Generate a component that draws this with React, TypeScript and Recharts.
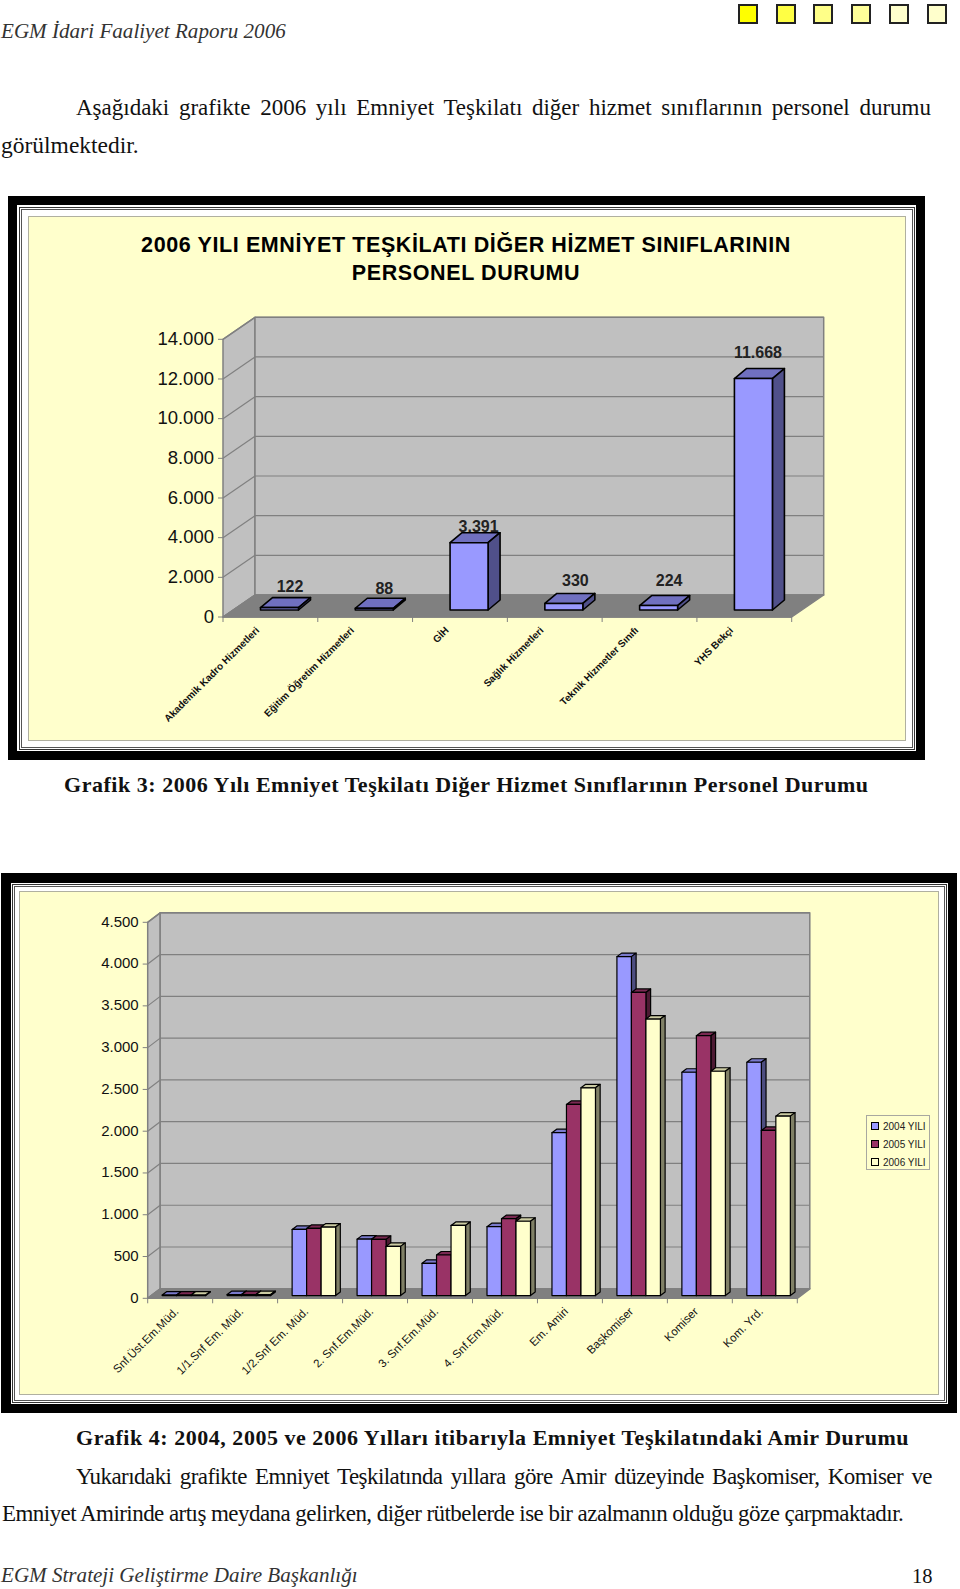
import React from "react";
import { BarChart, Bar, XAxis, YAxis, CartesianGrid, LabelList, Legend } from "recharts";

// Grafik 3
const staffCategories = [
  "Akademik Kadro Hizmetleri",
  "Eğitim Öğretim Hizmetleri",
  "GİH",
  "Sağlık Hizmetleri",
  "Teknik Hizmetler Sınıfı",
  "YHS Bekçi",
];
const staffValues = [122, 88, 3391, 330, 224, 11668];
const staffTicks = [0, 2000, 4000, 6000, 8000, 10000, 12000, 14000];
const staffLabelLift = [21.5, 20.5, 16.5, 23.5, 25.5, 26.5];
const staffLabelShift = [20, 19.5, 19, 21, 20, 14];

// Grafik 4
const rankCategories = [
  "Snf.Üst.Em.Müd.",
  "1/1.Snf Em. Müd.",
  "1/2.Snf Em. Müd.",
  "2. Snf.Em.Müd.",
  "3. Snf.Em.Müd.",
  "4. Snf.Em.Müd.",
  "Em. Amiri",
  "Başkomiser",
  "Komiser",
  "Kom. Yrd.",
];
const rank2004 = [6, 12, 792, 676, 386, 825, 1950, 4057, 2673, 2793];
const rank2005 = [6, 12, 804, 673, 486, 921, 2288, 3628, 3111, 1977];
const rank2006 = [6, 12, 820, 589, 840, 890, 2487, 3310, 2685, 2148];
const rankTicks = [0, 500, 1000, 1500, 2000, 2500, 3000, 3500, 4000, 4500];

const headerSquares = ["#ffff00", "#ffff44", "#ffff88", "#ffff99", "#ffffcc", "#ffffcc"];

const staffData = staffCategories.map((name, i) => ({ name, value: staffValues[i] }));
const rankData = rankCategories.map((name, i) => ({
  name,
  y2004: rank2004[i],
  y2005: rank2005[i],
  y2006: rank2006[i],
}));

const SERIF = '"Liberation Serif", serif';
const SANS = '"Liberation Sans", sans-serif';
const WALL = "#c0c0c0";
const FLOOR = "#808080";
const PANEL = "#ffffcc";

const trNumber = (v: number) => String(v).replace(/\B(?=(\d{3})+$)/g, ".");

// bar front plus its top and side faces, shifted back onto the floor
function bar3D(shiftX: number, shiftY: number, depthX: number, depthY: number, top: string, side: string, sw: number) {
  return (props: any) => {
    const { x, y, width, height, fill } = props;
    const l = x + shiftX;
    const t = y - shiftY;
    const r = l + width;
    const b = t + height;
    return (
      <g stroke="#000" strokeWidth={sw} strokeLinejoin="round">
        <polygon points={`${l},${t} ${l + depthX},${t - depthY} ${r + depthX},${t - depthY} ${r},${t}`} fill={top} />
        <polygon points={`${r},${t} ${r + depthX},${t - depthY} ${r + depthX},${b - depthY} ${r},${b}`} fill={side} />
        <rect x={l} y={t} width={width} height={height} fill={fill} />
      </g>
    );
  };
}

function wallGrid(depthX: number, depthY: number) {
  return (p: any) => (
    <g key={p.key} stroke={FLOOR} strokeWidth={1.2}>
      <line x1={p.x1} y1={p.y1} x2={p.x1 + depthX} y2={p.y1 - depthY} />
      <line x1={p.x1 + depthX} y1={p.y1 - depthY} x2={p.x2 + depthX} y2={p.y1 - depthY} />
    </g>
  );
}

// backdrop svg, sits under the transparent chart
function Walls({ y, h, left, right, top, bottom, dx, dy }: { y: number; h: number; left: number; right: number; top: number; bottom: number; dx: number; dy: number }) {
  return (
    <svg width={960} height={h} style={{ position: "absolute", left: 0, top: y }}>
      <g stroke={FLOOR} strokeWidth={1.5} strokeLinejoin="round">
        <polygon points={`${left},${top} ${left + dx},${top - dy} ${left + dx},${bottom - dy} ${left},${bottom}`} fill={WALL} />
        <rect x={left + dx} y={top - dy} width={right - left} height={bottom - top} fill={WALL} />
        <polygon points={`${left},${bottom} ${left + dx},${bottom - dy} ${right + dx},${bottom - dy} ${right},${bottom}`} fill={FLOOR} />
      </g>
    </svg>
  );
}

function slantedTick(count: number, band: number, floorY: number, backX: number, backY: number, fontSize: number, bold: boolean) {
  return (props: any) => {
    const { x, payload, index } = props;
    const ex = x - backX;
    const ey = floorY + backY;
    return (
      <g>
        <line x1={x - band / 2} y1={floorY} x2={x - band / 2} y2={floorY + 5} stroke={FLOOR} />
        {index === count - 1 && <line x1={x + band / 2} y1={floorY} x2={x + band / 2} y2={floorY + 5} stroke={FLOOR} />}
        <text
          x={ex}
          y={ey}
          textAnchor="end"
          fontFamily={SANS}
          fontSize={fontSize}
          fontWeight={bold ? "bold" : "normal"}
          fill="#111"
          transform={`rotate(-45 ${ex} ${ey})`}
        >
          {payload.value}
        </text>
      </g>
    );
  };
}

function RankLegend({ payload }: any) {
  return (
    <div style={{ width: 64, height: 55, boxSizing: "border-box", border: "1px solid #a8a8a0", background: PANEL, paddingTop: 1.5 }}>
      {(payload || []).map((e: any) => (
        <div key={e.value} style={{ display: "flex", alignItems: "center", height: 18, paddingLeft: 4, fontFamily: SANS, fontSize: 10, color: "#222", whiteSpace: "nowrap" }}>
          <span style={{ flex: "none", width: 6, height: 6, border: "1.5px solid #000", background: e.color, marginRight: 4, marginTop: -1 }} />
          {e.value}
        </div>
      ))}
    </div>
  );
}

function Frame({ x, y, w, h, thick, gap, panelGap }: { x: number; y: number; w: number; h: number; thick: number; gap: number; panelGap: number }) {
  return (
    <div style={{ position: "absolute", left: x, top: y, width: w, height: h, boxSizing: "border-box", background: "#000", padding: thick }}>
      <div style={{ width: "100%", height: "100%", boxSizing: "border-box", background: "#fff", padding: gap }}>
        <div style={{ width: "100%", height: "100%", boxSizing: "border-box", border: "1px solid #333", padding: 1 }}>
          <div style={{ width: "100%", height: "100%", boxSizing: "border-box", border: "1px solid #555", padding: panelGap }}>
            <div style={{ width: "100%", height: "100%", background: PANEL, boxShadow: "0 0 0 1px #b0b0a0" }} />
          </div>
        </div>
      </div>
    </div>
  );
}

function Line({ x, y, size, children, style }: { x: number; y: number; size: number; children: React.ReactNode; style?: React.CSSProperties }) {
  return (
    <div style={{ position: "absolute", left: x, top: y - size * 0.6, fontFamily: SERIF, fontSize: size, lineHeight: `${size * 1.2}px`, color: "#111", whiteSpace: "nowrap", ...style }}>
      {children}
    </div>
  );
}

const STAFF_TOP = 200;
const RANK_TOP = 880;

export default function App() {
  return (
    <div style={{ position: "absolute", left: 0, top: 0, width: 960, height: 1589, background: "#fff", overflow: "hidden" }}>
      <Line x={1} y={32} size={21.1} style={{ fontStyle: "italic", color: "#333" }}>EGM İdari Faaliyet Raporu 2006</Line>
      {headerSquares.map((c, i) => (
        <div key={i} style={{ position: "absolute", left: 738 + i * 37.7, top: 4, width: 20, height: 20, boxSizing: "border-box", border: "2px solid #222", background: c }} />
      ))}
      <Line x={76} y={108} size={23} style={{ width: 855, whiteSpace: "normal", textAlign: "justify", textAlignLast: "justify" }}>
        Aşağıdaki grafikte 2006 yılı Emniyet Teşkilatı diğer hizmet sınıflarının personel durumu
      </Line>
      <Line x={1} y={145} size={23.5}>görülmektedir.</Line>

      <Frame x={8} y={196} w={917} h={564} thick={9} gap={1.5} panelGap={7} />
      <Walls y={STAFF_TOP} h={550} left={223} right={791.7} top={139.3} bottom={417} dx={32} dy={22} />
      <div style={{ position: "absolute", left: 0, top: STAFF_TOP }}>
        <BarChart width={960} height={550} data={staffData} margin={{ top: 139.3, right: 168.3, bottom: 103, left: 163 }} barSize={38}>
          <text x={466} y={52} textAnchor="middle" fontFamily={SANS} fontWeight="bold" fontSize={21.5} letterSpacing={0.6} fill="#000">
            2006 YILI EMNİYET TEŞKİLATI DİĞER HİZMET SINIFLARININ
          </text>
          <text x={466} y={79.5} textAnchor="middle" fontFamily={SANS} fontWeight="bold" fontSize={21.5} letterSpacing={0.6} fill="#000">
            PERSONEL DURUMU
          </text>
          <CartesianGrid vertical={false} horizontal={wallGrid(32, 22)} />
          <XAxis dataKey="name" height={30} interval={0} tickLine={false} axisLine={{ stroke: FLOOR, strokeWidth: 1.5 }} tick={slantedTick(staffCategories.length, 94.78, 417, 10.5, 14, 10, true)} />
          <YAxis
            width={60}
            domain={[0, 14000]}
            ticks={staffTicks}
            interval={0}
            tickFormatter={trNumber}
            tickSize={5}
            tickMargin={4}
            axisLine={false}
            tickLine={{ stroke: FLOOR }}
            tick={{ fontFamily: SANS, fontSize: 18.5, fill: "#111", dy: -1 }}
          />
          <Bar dataKey="value" fill="#9999ff" isAnimationActive={false} shape={bar3D(9.5, 7, 12, 10, "#7070c0", "#50508a", 1.6)}>
            <LabelList
              dataKey="value"
              content={(p: any) => (
                <text x={p.x + p.width / 2 + staffLabelShift[p.index]} y={p.y - 7 - staffLabelLift[p.index] + 6} textAnchor="middle" fontFamily={SANS} fontWeight="bold" fontSize={16} fill="#222">
                  {trNumber(Number(p.value))}
                </text>
              )}
            />
          </Bar>
        </BarChart>
      </div>

      <Line x={64} y={785} size={22} style={{ fontWeight: "bold", letterSpacing: 0.53 }}>
        Grafik 3: 2006 Yılı Emniyet Teşkilatı Diğer Hizmet Sınıflarının Personel Durumu
      </Line>

      <Frame x={1} y={873} w={956} h={540} thick={9.5} gap={1} panelGap={5.5} />
      <Walls y={RANK_TOP} h={520} left={147.7} right={797.3} top={42.3} bottom={418.3} dx={12.5} dy={9.5} />
      <div style={{ position: "absolute", left: 0, top: RANK_TOP }}>
        <BarChart width={960} height={520} data={rankData} margin={{ top: 42.3, right: 162.7, bottom: 71.7, left: 97.7 }} barSize={14.5} barGap={0}>
          <CartesianGrid vertical={false} horizontal={wallGrid(12.5, 9.5)} />
          <XAxis dataKey="name" height={30} interval={0} tickLine={false} axisLine={{ stroke: FLOOR, strokeWidth: 1.5 }} tick={slantedTick(rankCategories.length, 64.96, 418.3, 1, 14, 11.5, false)} />
          <YAxis
            width={50}
            domain={[0, 4500]}
            ticks={rankTicks}
            interval={0}
            tickFormatter={trNumber}
            tickSize={5}
            tickMargin={4}
            axisLine={false}
            tickLine={{ stroke: FLOOR }}
            tick={{ fontFamily: SANS, fontSize: 15, fill: "#111", dy: -1 }}
          />
          <Legend layout="vertical" align="center" verticalAlign="middle" content={<RankLegend />} wrapperStyle={{ left: 866, top: 235, width: 64 }} />
          <Bar dataKey="y2004" name="2004 YILI" fill="#9999ff" isAnimationActive={false} shape={bar3D(3.5, 2.7, 4.7, 3.5, "#7a7acc", "#4d4d80", 1.2)} />
          <Bar dataKey="y2005" name="2005 YILI" fill="#993366" isAnimationActive={false} shape={bar3D(3.5, 2.7, 4.7, 3.5, "#7a2952", "#4d1a33", 1.2)} />
          <Bar dataKey="y2006" name="2006 YILI" fill="#ffffcc" isAnimationActive={false} shape={bar3D(3.5, 2.7, 4.7, 3.5, "#cccca3", "#808066", 1.2)} />
        </BarChart>
      </div>

      <Line x={76} y={1438.5} size={22} style={{ fontWeight: "bold", letterSpacing: 0.53 }}>
        Grafik 4: 2004, 2005 ve 2006 Yılları itibarıyla Emniyet Teşkilatındaki Amir Durumu
      </Line>
      <Line x={76} y={1477} size={23} style={{ width: 856, whiteSpace: "normal", textAlign: "justify", textAlignLast: "justify", letterSpacing: -0.55 }}>
        Yukarıdaki grafikte Emniyet Teşkilatında yıllara göre Amir düzeyinde Başkomiser, Komiser ve
      </Line>
      <Line x={2} y={1514} size={23} style={{ letterSpacing: -0.55 }}>
        Emniyet Amirinde artış meydana gelirken, diğer rütbelerde ise bir azalmanın olduğu göze çarpmaktadır.
      </Line>
      <Line x={1} y={1576} size={21.1} style={{ fontStyle: "italic", color: "#333" }}>EGM Strateji Geliştirme Daire Başkanlığı</Line>
      <Line x={912} y={1576} size={20.5}>18</Line>
    </div>
  );
}
